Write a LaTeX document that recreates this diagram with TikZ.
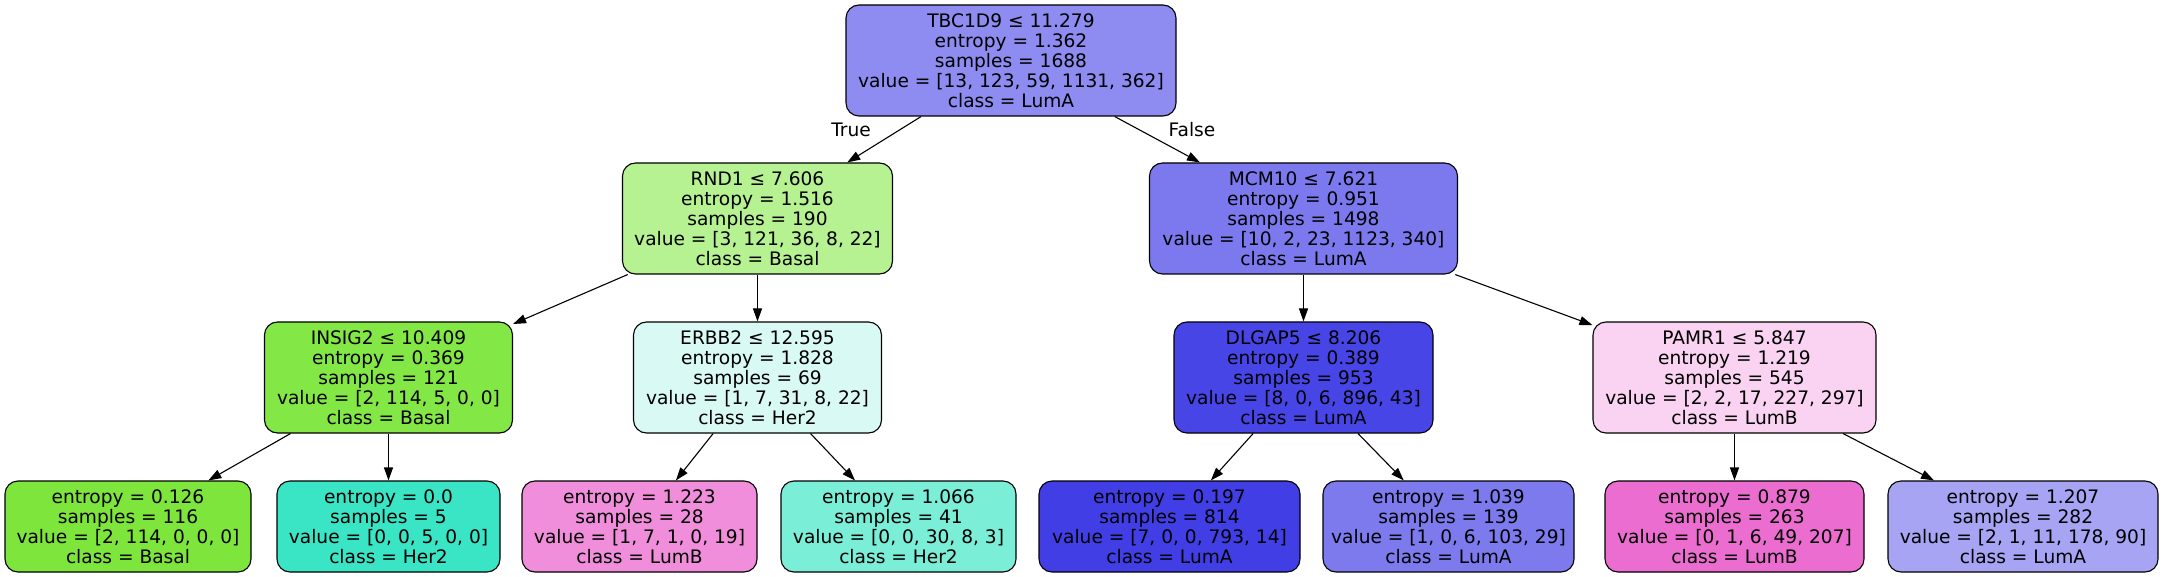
\documentclass[tikz,border=0pt]{standalone}
\usepackage{fontspec}
\setmainfont{DejaVu Sans}
\usetikzlibrary{arrows.meta}
\definecolor{cRoot}{RGB}{142,140,240}
\definecolor{cRND}{RGB}{182,241,146}
\definecolor{cMCM}{RGB}{123,121,237}
\definecolor{cINS}{RGB}{131,231,69}
\definecolor{cERB}{RGB}{217,250,244}
\definecolor{cDLG}{RGB}{72,69,231}
\definecolor{cPAM}{RGB}{249,211,241}
\definecolor{cLa}{RGB}{125,229,60}
\definecolor{cLb}{RGB}{57,229,197}
\definecolor{cLc}{RGB}{240,142,219}
\definecolor{cLd}{RGB}{123,238,216}
\definecolor{cLe}{RGB}{65,62,230}
\definecolor{cLf}{RGB}{124,122,237}
\definecolor{cLg}{RGB}{236,109,208}
\definecolor{cLh}{RGB}{166,164,243}
\begin{document}
\begin{tikzpicture}[x=1pt,y=-1pt,
  tnode/.style={draw=black, line width=1.1pt, rounded corners=13pt, align=center,
    inner sep=0pt, font=\fontsize{18.6}{20}\selectfont, minimum height=111pt},
  leaf/.style={tnode, minimum height=91pt},
  edge/.style={draw=black, line width=1.1pt, -{Triangle[length=13pt,width=9pt]}},
  elabel/.style={font=\fontsize{18.6}{20}\selectfont, inner sep=0pt}]
\useasboundingbox (0,0) rectangle (2163,577);

\node[tnode, fill=cRoot, minimum width=330pt] (root) at (1011,60.5)
  {TBC1D9 ≤ 11.279\\entropy = 1.362\\samples = 1688\\value = [13, 123, 59, 1131, 362]\\class = LumA};
\node[tnode, fill=cRND, minimum width=270pt] (rnd) at (757.5,218.5)
  {RND1 ≤ 7.606\\entropy = 1.516\\samples = 190\\value = [3, 121, 36, 8, 22]\\class = Basal};
\node[tnode, fill=cMCM, minimum width=308pt] (mcm) at (1303.5,218.5)
  {MCM10 ≤ 7.621\\entropy = 0.951\\samples = 1498\\value = [10, 2, 23, 1123, 340]\\class = LumA};
\node[tnode, fill=cINS, minimum width=248pt] (ins) at (388.5,377.5)
  {INSIG2 ≤ 10.409\\entropy = 0.369\\samples = 121\\value = [2, 114, 5, 0, 0]\\class = Basal};
\node[tnode, fill=cERB, minimum width=248pt] (erb) at (757.5,377.5)
  {ERBB2 ≤ 12.595\\entropy = 1.828\\samples = 69\\value = [1, 7, 31, 8, 22]\\class = Her2};
\node[tnode, fill=cDLG, minimum width=259pt] (dlg) at (1303.5,377.5)
  {DLGAP5 ≤ 8.206\\entropy = 0.389\\samples = 953\\value = [8, 0, 6, 896, 43]\\class = LumA};
\node[tnode, fill=cPAM, minimum width=283pt] (pam) at (1734.5,377.5)
  {PAMR1 ≤ 5.847\\entropy = 1.219\\samples = 545\\value = [2, 2, 17, 227, 297]\\class = LumB};

\node[leaf, fill=cLa, minimum width=246pt] (la) at (128,526.5)
  {entropy = 0.126\\samples = 116\\value = [2, 114, 0, 0, 0]\\class = Basal};
\node[leaf, fill=cLb, minimum width=223pt] (lb) at (388.5,526.5)
  {entropy = 0.0\\samples = 5\\value = [0, 0, 5, 0, 0]\\class = Her2};
\node[leaf, fill=cLc, minimum width=235pt] (lc) at (639.5,526.5)
  {entropy = 1.223\\samples = 28\\value = [1, 7, 1, 0, 19]\\class = LumB};
\node[leaf, fill=cLd, minimum width=235pt] (ld) at (898.5,526.5)
  {entropy = 1.066\\samples = 41\\value = [0, 0, 30, 8, 3]\\class = Her2};
\node[leaf, fill=cLe, minimum width=261pt] (le) at (1169.5,526.5)
  {entropy = 0.197\\samples = 814\\value = [7, 0, 0, 793, 14]\\class = LumA};
\node[leaf, fill=cLf, minimum width=251pt] (lf) at (1448.5,526.5)
  {entropy = 1.039\\samples = 139\\value = [1, 0, 6, 103, 29]\\class = LumA};
\node[leaf, fill=cLg, minimum width=259pt] (lg) at (1734.5,526.5)
  {entropy = 0.879\\samples = 263\\value = [0, 1, 6, 49, 207]\\class = LumB};
\node[leaf, fill=cLh, minimum width=270pt] (lh) at (2023,526.5)
  {entropy = 1.207\\samples = 282\\value = [2, 1, 11, 178, 90]\\class = LumA};

\node[elabel] (lblT) at (851,130) {True};
\node[elabel] (lblF) at (1192,130) {False};

\draw[edge] (root) -- (rnd);
\draw[edge] (root) -- (mcm);
\draw[edge] (rnd) -- (ins);
\draw[edge] (rnd) -- (erb);
\draw[edge] (mcm) -- (dlg);
\draw[edge] (mcm) -- (pam);
\draw[edge] (ins) -- (la);
\draw[edge] (ins) -- (lb);
\draw[edge] (erb) -- (lc);
\draw[edge] (erb) -- (ld);
\draw[edge] (dlg) -- (le);
\draw[edge] (dlg) -- (lf);
\draw[edge] (pam) -- (lg);
\draw[edge] (pam) -- (lh);
\end{tikzpicture}
\end{document}
